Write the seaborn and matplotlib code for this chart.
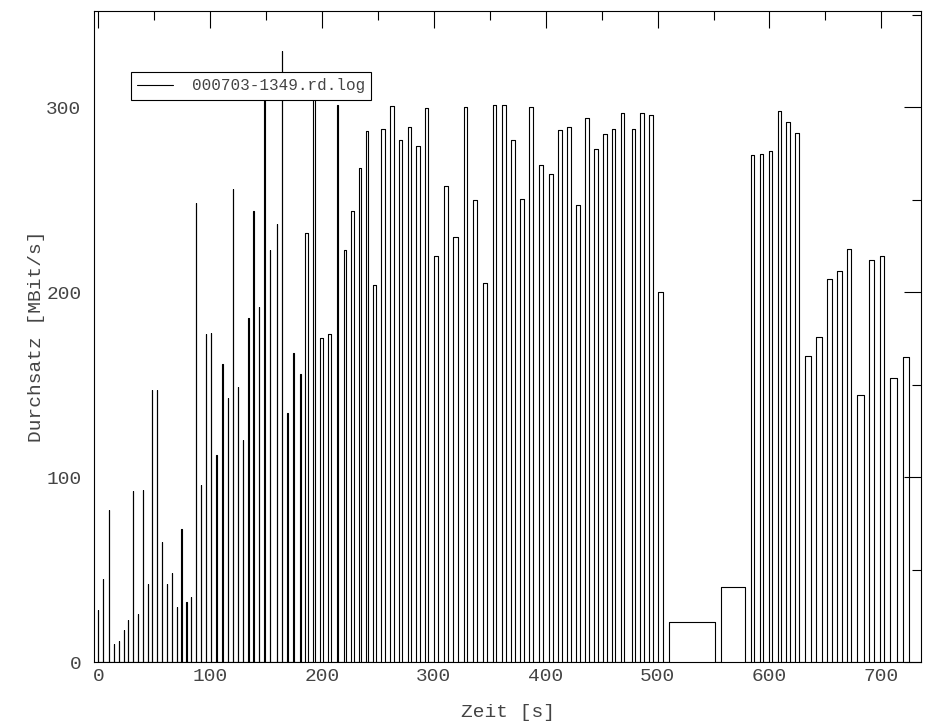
import matplotlib
matplotlib.use('Agg')
import matplotlib.pyplot as plt
from matplotlib.ticker import MultipleLocator
import pandas as pd
import seaborn as sns

# transfer intervals: start [s], end [s], throughput [MBit/s]
t_start = [0.0, 4.5, 9.8, 14.3, 18.8, 23.2, 26.8, 31.3, 35.8, 40.2,
           44.7, 48.3, 52.7, 57.2, 61.7, 66.1, 70.6, 74.1, 78.6, 83.1,
           87.6, 92.1, 96.5, 101.0, 105.4, 110.8, 116.2, 120.7, 125.2, 129.6,
           133.8, 138.5, 143.9, 148.3, 153.8, 160.0, 164.5, 168.5, 174.5, 179.9,
           185.0, 192.2, 198.5, 205.6, 213.6, 219.9, 226.2, 233.3, 239.6, 245.8,
           253.0, 261.0, 269.1, 277.1, 284.3, 292.3, 300.4, 309.3, 317.4, 327.2,
           335.2, 344.2, 353.1, 361.2, 369.2, 377.3, 385.3, 394.2, 403.2, 411.2,
           419.3, 427.3, 435.4, 443.4, 451.5, 459.5, 467.5, 477.4, 484.5, 492.6,
           500.6, 510.5, 557.0, 583.8, 591.8, 599.9, 607.9, 615.1, 623.1, 632.0,
           641.9, 651.7, 660.7, 669.6, 678.5, 689.3, 699.1, 708.0, 719.7]
t_end = [0.0, 4.5, 9.8, 14.3, 18.8, 23.2, 26.8, 31.3, 35.8, 40.2,
         44.7, 48.3, 52.7, 57.2, 61.7, 66.1, 70.6, 75.0, 79.5, 83.1,
         87.6, 92.1, 96.5, 101.0, 106.3, 111.7, 116.2, 120.7, 125.2, 129.6,
         134.7, 139.4, 143.9, 149.2, 153.8, 160.0, 164.5, 169.4, 175.4, 180.8,
         187.7, 194.0, 201.1, 208.3, 214.5, 221.7, 228.9, 235.1, 241.4, 248.5,
         256.6, 264.6, 271.8, 279.8, 287.9, 295.0, 304.0, 312.9, 321.8, 329.9,
         338.8, 347.8, 355.8, 364.7, 372.8, 380.8, 388.9, 397.8, 406.8, 414.8,
         422.9, 430.9, 438.9, 447.0, 455.0, 462.2, 470.2, 480.1, 488.1, 496.2,
         505.1, 551.6, 578.4, 586.5, 594.5, 602.5, 610.6, 618.6, 626.7, 637.4,
         647.2, 656.2, 665.1, 673.2, 684.8, 693.7, 702.7, 714.3, 725.0]
rate = [28.2, 45.0, 82.2, 9.9, 11.5, 17.4, 22.8, 92.5, 26.1, 93.0,
        42.3, 147.0, 147.0, 65.0, 42.3, 48.3, 29.9, 72.0, 32.6, 35.3,
        248.5, 95.8, 177.3, 177.8, 112.0, 161.0, 142.7, 255.6, 148.6, 120.0,
        185.9, 243.7, 192.0, 306.0, 222.6, 236.7, 330.6, 135.0, 167.4, 156.0,
        232.0, 306.0, 175.5, 177.7, 301.3, 222.6, 244.0, 267.3, 287.3, 204.1,
        288.3, 300.8, 282.4, 289.4, 279.2, 299.7, 219.8, 257.6, 230.0, 300.2,
        250.0, 205.2, 301.3, 301.3, 282.4, 250.5, 300.2, 268.9, 264.0, 287.8,
        289.4, 247.3, 294.3, 277.5, 285.6, 288.3, 297.0, 288.3, 297.0, 295.9,
        200.3, 21.6, 40.5, 274.3, 274.8, 276.4, 298.0, 292.1, 286.2, 165.8,
        176.0, 207.3, 211.7, 223.5, 144.7, 217.6, 219.8, 153.9, 165.2]

# outline trace as gnuplot draws it: up, across, down, along zero
xs, ys = [], []
for s, e, v in zip(t_start, t_end, rate):
    xs += [s, s, e, e]
    ys += [0, v, v, 0]
trace = pd.DataFrame({'Zeit': xs, 'Durchsatz': ys})

sns.set_style('white')
plt.rcParams['font.family'] = ['Liberation Mono', 'DejaVu Sans Mono']
txt = '#444444'

fig = plt.figure(figsize=(9.39, 7.27), dpi=100)
ax = fig.add_axes([94 / 939, (727 - 662.3) / 727, (921.3 - 94) / 939, (662.3 - 11) / 727])

sns.lineplot(data=trace, x='Zeit', y='Durchsatz', sort=False, estimator=None,
             color='black', lw=0.8, label='000703-1349.rd.log', ax=ax)

ax.set_xlim(-3.8, 735.7)
ax.set_ylim(0, 352)
ax.xaxis.set_major_locator(MultipleLocator(100))
ax.xaxis.set_minor_locator(MultipleLocator(50))
ax.yaxis.set_major_locator(MultipleLocator(100))
ax.yaxis.set_minor_locator(MultipleLocator(50))
ax.tick_params(which='both', direction='in', top=True, right=True, width=0.8, color='black')
ax.tick_params(which='major', length=12)
ax.tick_params(which='minor', length=6.5)
ax.tick_params(axis='x', which='major', pad=4, labelsize=14, labelcolor=txt)
ax.tick_params(axis='y', which='major', pad=9, labelsize=14, labelcolor=txt)
for sp in ax.spines.values():
    sp.set_visible(True)
    sp.set_color('black')
    sp.set_linewidth(0.8)

ax.set_xlabel('Zeit [s]', fontsize=14, color=txt, labelpad=14)
ax.set_ylabel('Durchsatz [MBit/s]', fontsize=14, color=txt, labelpad=1)

leg = ax.legend(loc='upper left', bbox_to_anchor=(131 / 939, 1 - 72 / 727),
                bbox_transform=fig.transFigure, borderaxespad=0, fancybox=False,
                framealpha=1, edgecolor='black', fontsize=11.5, handlelength=2.2,
                handletextpad=1.2, borderpad=0.4)
leg.get_frame().set_linewidth(0.8)
for t in leg.get_texts():
    t.set_color(txt)

fig.savefig('out.png', dpi=100)
